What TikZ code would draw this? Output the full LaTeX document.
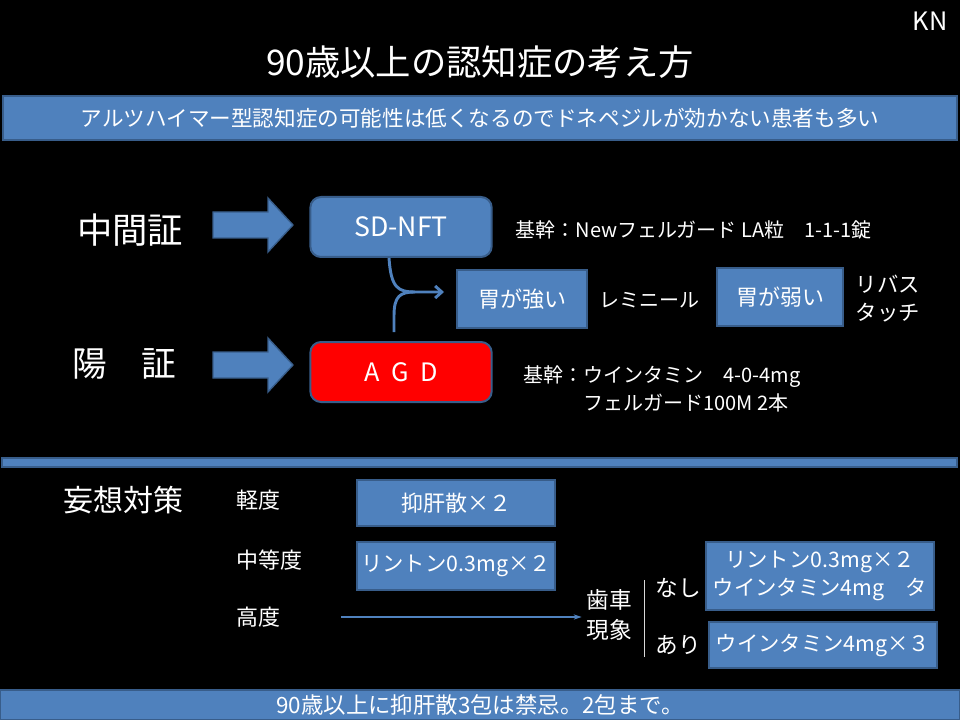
\documentclass[tikz,border=0pt]{standalone}
\usepackage{fontspec}
\setmainfont{Noto Sans CJK JP}
\usepackage{tikz}
\usetikzlibrary{positioning,arrows.meta,calc}
\usepackage{xcolor}
\definecolor{boxblue}{HTML}{4F81BD}
\definecolor{boxedge}{HTML}{385D8A}
\definecolor{agdred}{HTML}{FF0000}
\newcommand{\fsz}[2]{\fontsize{#1}{#2}\selectfont}

\begin{document}
\begin{tikzpicture}[x=0.75pt,y=-0.75pt,
  every node/.style={text=white},
  bluebox/.style={draw=boxedge,line width=1.5pt,fill=boxblue,inner sep=0pt},
  link/.style={draw=boxblue,line width=2.2pt},
  thinlink/.style={draw=boxblue,line width=0.8pt,-{Stealth[length=6pt,width=4pt]}}]
\fill[black] (0,0) rectangle (960,720);
\useasboundingbox (0,0) rectangle (960,720);
% heading
\node[font=\fsz{26.5}{30}] (title) at (480,62) {90歳以上の認知症の考え方};
\node[font=\fsz{19}{22}] (kn) at (930,21) {KN};
\node[bluebox,minimum width=715pt,minimum height=33pt,font=\fsz{16.2}{18}] (topbar) at (480,118)
  {アルツハイマー型認知症の可能性は低くなるのでドネペジルが効かない患者も多い};
% upper part
\node[font=\fsz{26.5}{30}] (chukan) at (130,230) {中間証};
\node[font=\fsz{26}{30}] (yosho) at (124,364) {陽　証};
\foreach \yc in {225,365}
  \draw[fill=boxblue,draw=boxedge,line width=1pt] (213,\yc-13) -- (268,\yc-13) -- (268,\yc-27)
    -- (293,\yc) -- (268,\yc+27) -- (268,\yc+13) -- (213,\yc+13) -- cycle;
\node[bluebox,rounded corners=8pt,minimum width=136pt,minimum height=45pt,font=\fsz{20}{22}] (sdnft) at (401,227) {SD-NFT};
\node[bluebox,fill=agdred,rounded corners=8pt,minimum width=136pt,minimum height=45pt,font=\fsz{19}{22}] (agd) at (401,372) {A\ \ G\ \ D};
\node[anchor=west,font=\fsz{15}{18}] (kikan1) at (511,230) {基幹：Newフェルガード LA粒　1-1-1錠};
\node[bluebox,minimum width=97.5pt,minimum height=43.5pt,font=\fsz{16.5}{19}] (strong) at (522,299) {胃が強い};
\node[anchor=west,font=\fsz{15}{18}] (reminyl) at (595,300) {レミニール};
\node[bluebox,minimum width=94pt,minimum height=43.5pt,font=\fsz{16.5}{19}] (weak) at (780,297) {胃が弱い};
\node[anchor=west,align=left,font=\fsz{16}{21}] (rivas) at (851,299) {リバス\\タッチ};
\node[anchor=west,align=left,font=\fsz{15}{21}] (kikan2) at (519,389)
  {基幹：ウインタミン　4-0-4mg\\\phantom{基幹：}フェルガード100M 2本};
\coordinate (merge) at (415,292);
\draw[link,-{Straight Barb[length=5pt,width=9pt]}] ($(sdnft.south)+(-12,0)$)
  .. controls ($(sdnft.south)+(-10,30)$) and (398,292) .. (merge) -- ($(strong.west)+(-12,-7)$);
\draw[link] ($(agd.north)+(-7,-9)$) -- ($(agd.north)+(-7,-25)$)
  .. controls ($(agd.north)+(-7,-45)$) and (400,292) .. (merge);
% divider
\draw[fill=boxblue,draw=boxedge,line width=1pt] (2,458) rectangle (957,467);
% lower part
\node[font=\fsz{22.5}{26}] (moso) at (123,500) {妄想対策};
\node[anchor=west,font=\fsz{16.5}{20}] (mild) at (232,500) {軽度};
\node[anchor=west,font=\fsz{16.5}{20}] (moderate) at (232,560) {中等度};
\node[anchor=west,font=\fsz{16.5}{20}] (kodo) at (232,617) {高度};
\node[bluebox,minimum width=149pt,minimum height=34pt,font=\fsz{16.5}{19}] (yoku) at (456,503) {抑肝散×２};
\node[bluebox,minimum width=149pt,minimum height=36pt,font=\fsz{16}{19}] (rint) at (456,566) {リントン0.3mg×２};
\node[align=center,font=\fsz{17}{22}] (gear) at (609,615) {歯車\\現象};
\draw[thinlink] ($(kodo.east)+(56,0)$) -- (gear.west |- kodo.east);
\draw[white!85!black,line width=0.8pt] ($(gear.east)+(8,-35)$) -- ($(gear.east)+(8,42)$);
\node[anchor=west,font=\fsz{17}{20}] (nashi) at (651,588) {なし};
\node[anchor=west,font=\fsz{17}{20}] (ari) at (651,645) {あり};
\node[bluebox,minimum width=171pt,minimum height=51pt,align=center,font=\fsz{16}{21}] (nashibox) at (820,576)
  {リントン0.3mg×２\\ウインタミン4mg　タ};
\node[bluebox,minimum width=171pt,minimum height=34.5pt,font=\fsz{16}{19}] (aribox) at (823,645) {ウインタミン4mg×３};
% footer
\node[bluebox,minimum width=720pt,minimum height=22.5pt,font=\fsz{16.8}{18}] (footbar) at (480,705)
  {90歳以上に抑肝散3包は禁忌。2包まで。};
\end{tikzpicture}
\end{document}
